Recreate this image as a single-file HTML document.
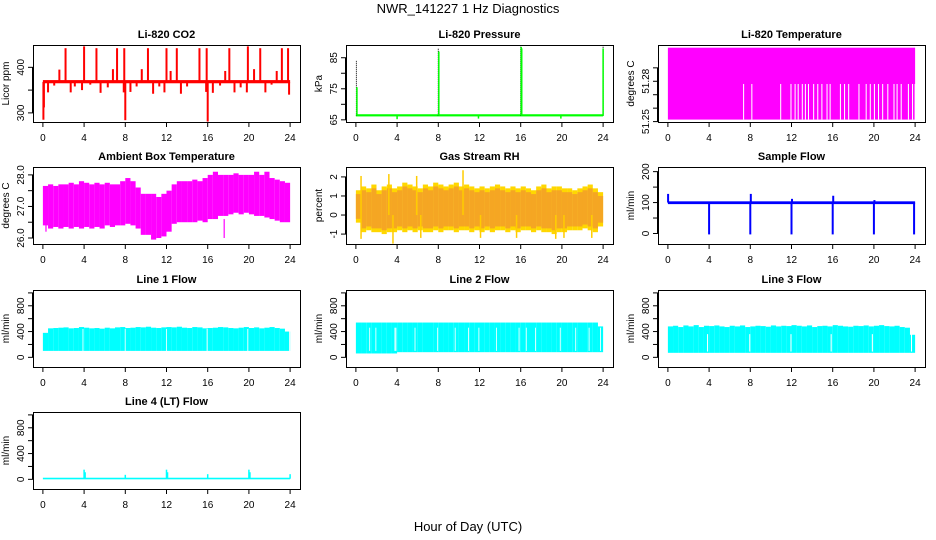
<!DOCTYPE html>
<html><head><meta charset="utf-8"><style>
body{margin:0;background:#fff}
svg{display:block;font-family:"Liberation Sans",sans-serif}
</style></head><body>
<svg id="c" width="936" height="540" viewBox="0 0 936 540">
<text x="468" y="13" font-size="13" text-anchor="middle">NWR_141227  1 Hz Diagnostics</text>
<text x="468" y="531" font-size="13" text-anchor="middle">Hour of Day (UTC)</text>
</svg>
<script>
// ---- data arrays ----
const hours = [0,4,8,12,16,20,24];
const co2Base = [365, 372];
const co2Spikes = [[0.05,285],[0.1,312],[0.5,345],[1.1,360],[1.6,395],[2.2,442],[2.7,345],[3.1,358],[3.8,350],[4.0,446],[4.6,362],[5.2,442],[5.6,344],[6.3,356],[6.8,396],[7.2,442],[7.9,442],[7.85,345],[8.0,284],[8.5,346],[9.1,358],[9.6,396],[10.2,442],[10.7,342],[11.3,358],[11.8,345],[12.0,442],[12.4,392],[13.0,442],[13.4,342],[14.0,358],[15.2,442],[15.9,442],[15.85,346],[16.0,281],[16.5,344],[17.2,360],[17.7,392],[18.1,442],[18.6,345],[19.2,356],[19.8,345],[19.9,446],[20.5,396],[21.1,442],[21.6,345],[22.2,362],[22.7,392],[23.2,442],[23.8,442],[23.9,340]];
const presBase = [66.1, 66.8];
const presDotted = [[0.05,84],[8.0,88],[16.0,89],[24.0,89]];
const presGreen = [[0.1,75.5],[8.05,87],[16.05,88.5],[16.1,88],[24.0,88],[4.0,65.2],[11.9,65.4],[19.9,65.4]];
const tempRange = [51.2515, 51.305];
const tempGapTop = 51.278;
const tempGaps = [7.3,8.1,10.9,11.9,12.3,12.6,13.0,13.3,13.6,14.1,14.5,14.9,15.4,15.7,16.7,17.1,17.5,18.5,19.2,19.6,20.0,20.4,20.8,21.3,21.9,22.2,22.6,23.3,23.7,23.95];
const ambHi = [27.65,27.7,27.65,27.7,27.7,27.75,27.7,27.8,27.75,27.7,27.75,27.7,27.75,27.7,27.7,27.8,27.9,27.8,27.6,27.4,27.4,27.4,27.3,27.4,27.5,27.7,27.8,27.8,27.8,27.85,27.8,27.9,28.0,28.1,28.0,28.0,28.0,28.05,28.0,28.0,28.0,28.1,28.0,28.1,27.9,27.85,27.8,27.75];
const ambLo = [26.4,26.3,26.35,26.3,26.35,26.3,26.35,26.3,26.35,26.3,26.35,26.3,26.4,26.35,26.4,26.4,26.45,26.4,26.3,26.1,26.1,25.95,26.0,26.05,26.2,26.45,26.5,26.5,26.5,26.5,26.55,26.5,26.6,26.6,26.7,26.7,26.75,26.8,26.75,26.8,26.75,26.7,26.7,26.65,26.6,26.55,26.5,26.5];
const ambSpikes = [[17.6,26.0],[0.3,26.2]];
const rhHi = [1.3,1.5,1.4,1.6,1.3,1.5,1.6,1.4,1.5,1.7,1.6,1.5,1.4,1.6,1.5,1.7,1.6,1.5,1.6,1.7,1.5,1.6,1.5,1.4,1.5,1.4,1.5,1.6,1.5,1.4,1.5,1.4,1.5,1.4,1.3,1.5,1.6,1.4,1.5,1.5,1.4,1.4,1.3,1.4,1.5,1.6,1.4,1.2];
const rhLo = [-0.4,-0.9,-0.8,-0.9,-0.9,-1.0,-0.9,-0.9,-0.8,-0.9,-0.8,-0.9,-0.8,-0.9,-0.9,-0.8,-0.9,-0.8,-0.8,-0.9,-0.8,-0.8,-0.9,-0.8,-0.9,-0.8,-0.9,-0.8,-0.8,-0.9,-0.8,-0.9,-0.8,-0.8,-0.9,-0.8,-0.9,-0.9,-1.0,-0.9,-0.9,-0.8,-0.8,-0.8,-0.7,-0.8,-0.9,-0.6];
const rhSpikes = [[0.5,2.05],[3.2,2.15],[5.9,2.05],[10.4,2.35],[3.6,-1.5],[0.5,-1.25],[6.3,-1.2],[12.1,-1.2],[15.6,-1.2],[19.4,-1.25],[20.2,-1.2],[22.9,-1.2]];
const sfBase = [95, 104];
const sfSpikes = [[0.02,128],[4.0,-3],[8.0,-3],[8.05,128],[12.0,-3],[12.05,112],[16.0,-3],[16.05,122],[20.0,-3],[20.05,108],[23.9,-3]];
const l1Hi = [380,450,455,460,465,450,455,470,460,450,455,445,460,450,465,470,455,460,470,465,475,460,455,465,470,465,475,460,455,470,465,450,455,460,470,465,455,450,460,470,455,465,450,460,470,455,445,400];
const l1Lo = 100;
const l1Gaps = [3.85,7.95,11.95,15.9,19.85,23.9];
const l2Hi = [540,540,540,540,540,540,540,540,540,540,540,540,540,540,540,540,540,540,540,540,540,540,540,540,540,540,540,540,540,540,540,540,540,540,540,540,540,540,540,540,540,540,540,540,540,540,540,480];
const l2Lo = [60,60,60,60,60,60,60,60,80,80,80,80,80,80,80,80,80,80,80,80,80,80,80,80,80,80,80,80,80,80,80,80,80,80,80,80,80,80,80,80,80,80,80,80,80,80,80,80];
const l2Gaps = [1.3,1.9,3.75,3.85,5.7,7.9,9.6,10.9,11.9,13.6,15.8,16.5,17.4,19.8,21.3,22.6,23.7];
const l3Hi = [480,490,470,495,480,500,470,490,485,495,480,470,490,480,495,470,480,490,485,475,495,480,490,485,500,490,480,495,470,485,490,480,500,490,480,475,490,485,495,480,490,500,485,480,490,470,460,350];
const l3Lo = 70;
const l3Gaps = [3.8,7.9,11.9,15.8,19.8,23.6];
const l4Base = [0, 25];
const l4Spikes = [[4.0,150],[4.1,110],[8.0,70],[12.0,150],[12.1,110],[16.0,80],[20.0,150],[20.1,110],[24.0,80]];

// ---- layout ----
const NS = "http://www.w3.org/2000/svg";
const svg = document.getElementById('c');
const colX = [33, 346, 658], rowY = [45, 167, 290, 412], W = 267, H = 77;
function mk(tag, attrs, parent) {
  const e = document.createElementNS(NS, tag);
  for (const k in attrs) e.setAttribute(k, attrs[k]);
  (parent || svg).appendChild(e);
  return e;
}
function panel(col, row, title, ylab, dmin, dmax, ticks, labels, name) {
  const p = {x0: colX[col], y0: rowY[row], dmin, dmax};
  p.g = mk('g', {});
  
  
  p.x = h => p.x0 + (h + 0.96) / 25.92 * W;
  p.y = v => p.y0 + H - (v - dmin) / (dmax - dmin) * H;
  p.marks = mk('g', {}, p.g);
  
  
  const t = mk('text', {x: p.x0 + W / 2, y: p.y0 - 7, 'font-size': 11, 'font-weight': 'bold', 'text-anchor': 'middle'}, p.g);
  t.textContent = title;
  
  
  const yl = mk('text', {x: 0, y: 0, 'font-size': 10, 'text-anchor': 'middle', transform: `translate(${p.x0 - 24},${p.y0 + H / 2}) rotate(-90)`}, p.g);
  yl.textContent = ylab;
  
  
  p.ax = mk('g', {stroke: '#000', 'stroke-width': 1, fill: 'none'}, p.g);
  
  
  const xa = mk('g', {}, p.g);
  
  
  mk('line', {x1: p.x(0), x2: p.x(24), y1: p.y0 + H + 0.5, y2: p.y0 + H + 0.5, stroke: '#000'}, xa);
  hours.forEach(h => {
    mk('line', {x1: p.x(h), x2: p.x(h), y1: p.y0 + H, y2: p.y0 + H + 5, stroke: '#000'}, xa);
    const l = mk('text', {x: p.x(h), y: p.y0 + H + 19, 'font-size': 10, 'text-anchor': 'middle'}, xa);
    l.textContent = h;
  });
  const ya = mk('g', {}, p.g);
  
  
  mk('line', {x1: p.x0 - 0.5, x2: p.x0 - 0.5, y1: p.y(ticks[0]), y2: p.y(ticks[ticks.length - 1]), stroke: '#000'}, ya);
  ticks.forEach((v, i) => {
    mk('line', {x1: p.x0 - 5, x2: p.x0, y1: p.y(v), y2: p.y(v), stroke: '#000'}, ya);
    if (labels[i] !== '') {
      const l = mk('text', {x: 0, y: 0, 'font-size': 10, 'text-anchor': 'middle', transform: `translate(${p.x0 - 9},${p.y(v)}) rotate(-90)`}, ya);
      l.textContent = labels[i];
    }
  });
  return p;
}
function frame(p) {
  mk('rect', {x: p.x0 + 0.5, y: p.y0 + 0.5, width: W, height: H}, p.ax);
}
function band(p, h0, h1, lo, hi, color) {
  const y1 = p.y(hi), y2 = p.y(lo);
  mk('rect', {x: p.x(h0), y: Math.min(y1, y2), width: Math.max(0.8, p.x(h1) - p.x(h0)), height: Math.max(1, Math.abs(y2 - y1)), fill: color}, p.marks);
}
function vseg(p, h, a, b, color, w, dash) {
  const o = {x1: p.x(h), x2: p.x(h), y1: p.y(a), y2: p.y(b), stroke: color, 'stroke-width': w || 1.5};
  if (dash) o['stroke-dasharray'] = dash;
  mk('line', o, p.marks);
}
function bins(p, hi, lo, color) {
  hi.forEach((v, i) => band(p, i * 0.5, i * 0.5 + 0.5, Array.isArray(lo) ? lo[i] : lo, v, color));
}

// CO2
let p = panel(0, 0, 'Li-820 CO2', 'Licor ppm', 280, 449, [300, 350, 400], ['300', '', '400'], 'co2');
band(p, 0, 24, co2Base[0], co2Base[1], '#ff0000');
co2Spikes.forEach(s => vseg(p, s[0], 368, s[1], '#ff0000', 2));
frame(p);

// Pressure
p = panel(1, 0, 'Li-820 Pressure', 'kPa', 64.3, 89.1, [65, 70, 75, 80, 85], ['65', '', '75', '', '85'], 'pressure');
band(p, 0, 24, presBase[0], presBase[1], '#00ff00');
presDotted.forEach(s => vseg(p, s[0], 66.3, s[1], '#000', 1, '1,1'));
presGreen.forEach(s => vseg(p, s[0], 66.3, s[1], '#00ff00', 1.5));
frame(p);

// Li-820 temperature
p = panel(2, 0, 'Li-820 Temperature', 'degrees C', 51.2497, 51.307, [51.25, 51.26, 51.27, 51.28, 51.29], ['51.25', '', '', '51.28', ''], 'li820-temp');
band(p, 0, 24, tempRange[0], tempRange[1], '#ff00ff');
tempGaps.forEach(h => band(p, h, h + 0.1, tempRange[0], tempGapTop, '#ffffff'));
frame(p);

// Ambient box temperature
p = panel(0, 1, 'Ambient Box Temperature', 'degrees C', 25.81, 28.25, [26, 26.5, 27, 27.5, 28], ['26.0', '', '27.0', '', '28.0'], 'ambient-temp');
bins(p, ambHi, ambLo, '#ff00ff');
ambSpikes.forEach(s => vseg(p, s[0], 26.6, s[1], '#ff00ff', 1.2));
frame(p);

// Gas stream RH
p = panel(1, 1, 'Gas Stream RH', 'percent', -1.52, 2.52, [-1, 0, 1, 2], ['-1', '0', '1', '2'], 'gas-rh');
bins(p, rhHi, rhLo, '#ffd700');
bins(p, rhHi.map(v => v - 0.2), rhLo.map(v => v + 0.2), '#f5a623');
rhSpikes.forEach(s => vseg(p, s[0], 0, s[1], '#ffcc00', 1.5));
frame(p);

// Sample flow
p = panel(2, 1, 'Sample Flow', 'ml/min', -34, 215, [0, 50, 100, 150, 200], ['0', '', '100', '', '200'], 'sample-flow');
band(p, 0, 24, sfBase[0], sfBase[1], '#0000ff');
sfSpikes.forEach(s => vseg(p, s[0], 100, s[1], '#0000ff', 2));
frame(p);

// Line flows
const lticks = [0, 200, 400, 600, 800, 1000], llabels = ['0', '', '400', '', '800', ''];
p = panel(0, 2, 'Line 1 Flow', 'ml/min', -150, 1045, lticks, llabels, 'line1-flow');
bins(p, l1Hi, l1Lo, '#00ffff');
l1Gaps.forEach(h => band(p, h, h + 0.08, l1Lo - 5, 440, '#ffffff'));
frame(p);

p = panel(1, 2, 'Line 2 Flow', 'ml/min', -150, 1045, lticks, llabels, 'line2-flow');
bins(p, l2Hi, l2Lo, '#00ffff');
l2Gaps.forEach(h => band(p, h, h + 0.08, 100, 460, '#ffffff'));
frame(p);

p = panel(2, 2, 'Line 3 Flow', 'ml/min', -150, 1045, lticks, llabels, 'line3-flow');
bins(p, l3Hi, l3Lo, '#00ffff');
l3Gaps.forEach(h => band(p, h, h + 0.1, 90, 360, '#ffffff'));
frame(p);

p = panel(0, 3, 'Line 4 (LT) Flow', 'ml/min', -150, 1045, lticks, llabels, 'line4-flow');
band(p, 0, 24, l4Base[0], l4Base[1], '#00ffff');
l4Spikes.forEach(s => vseg(p, s[0], 10, s[1], '#00ffff', 1.5));
frame(p);
</script>
</body></html>
